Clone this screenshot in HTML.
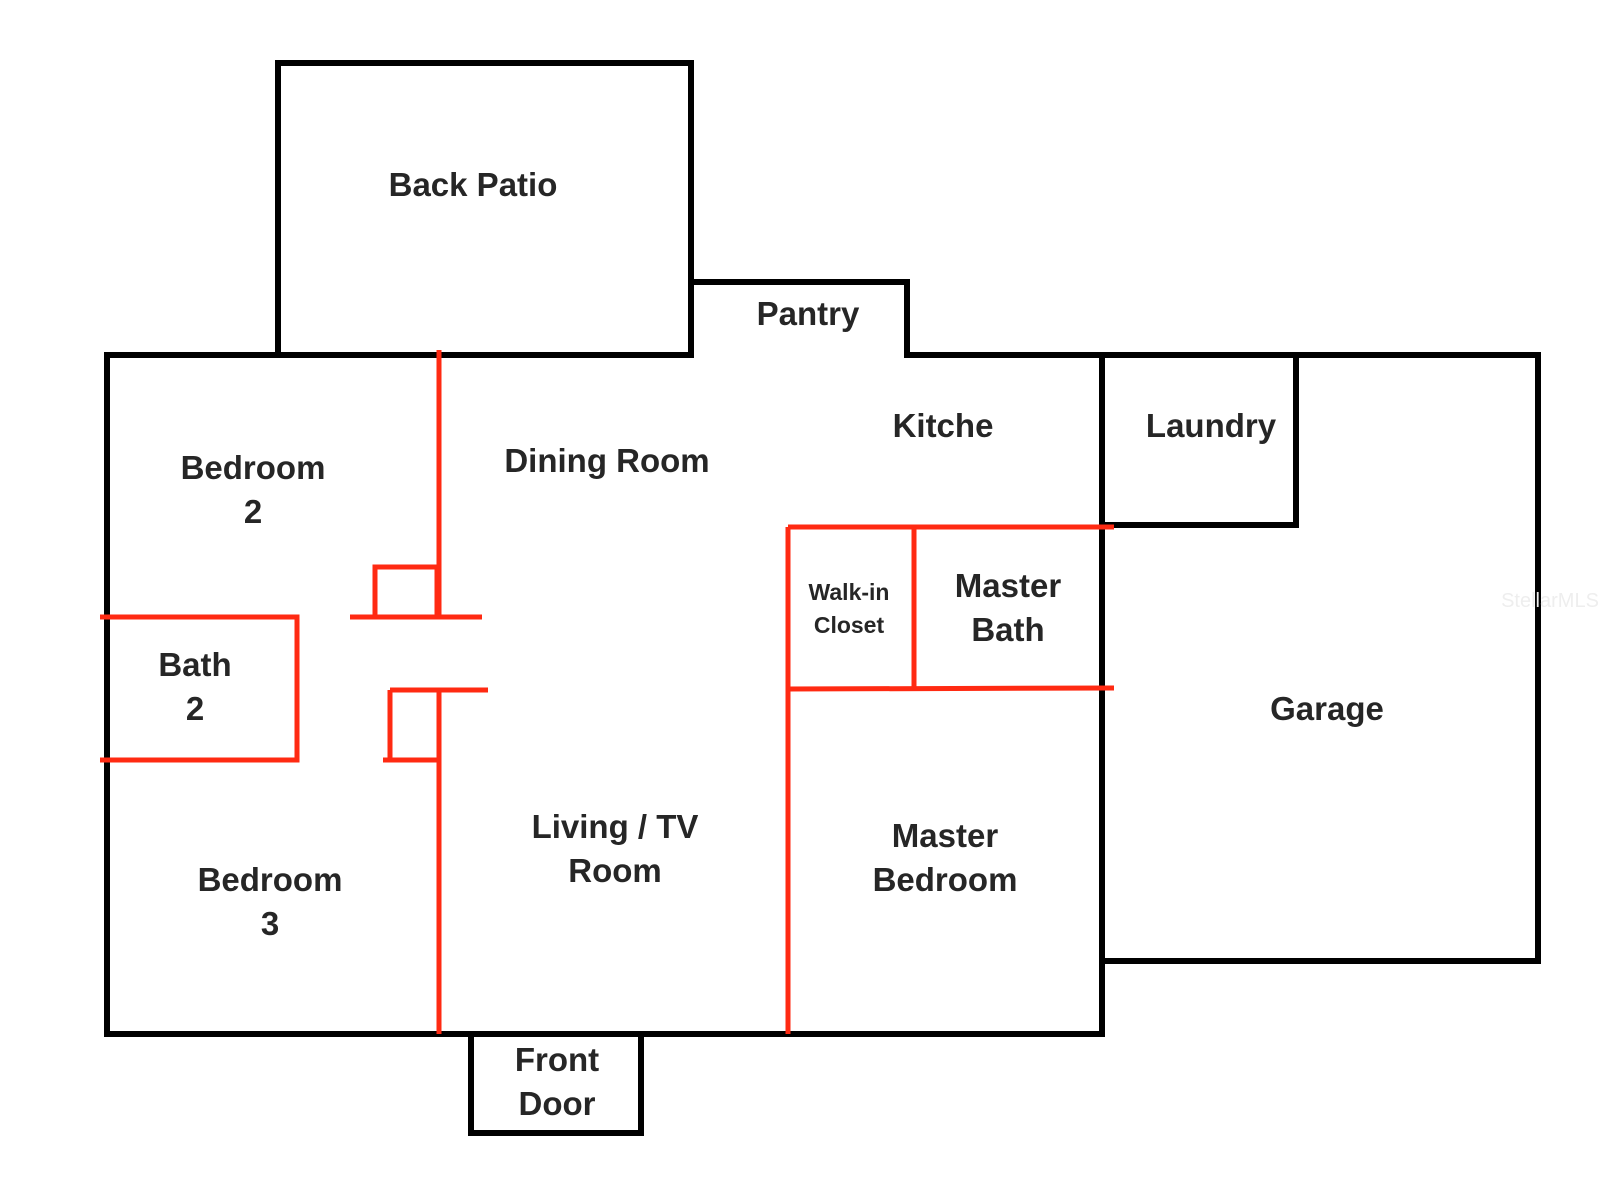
<!DOCTYPE html>
<html><head><meta charset="utf-8"><style>
html,body{margin:0;padding:0;background:#fff;width:1600px;height:1200px;overflow:hidden}
svg{display:block}
text{font-family:"Liberation Sans",Arial,sans-serif;font-weight:bold;fill:#262626;text-anchor:middle}
</style></head><body>
<svg width="1600" height="1200" viewBox="0 0 1600 1200" xmlns="http://www.w3.org/2000/svg">
<g fill="none" stroke="#000" stroke-width="6" stroke-linecap="square" stroke-linejoin="miter">
<rect x="278" y="63" width="413" height="292"/>
<polyline points="107,355 691,355 691,282 907,282 907,355 1102,355"/>
<polyline points="107,355 107,1034 1102,1034 1102,355"/>
<polyline points="1104,355 1296,355 1296,525 1104,525"/>
<polyline points="1102,355 1538,355 1538,961 1102,961"/>
<rect x="471" y="1034" width="170" height="99"/>
</g>
<g fill="none" stroke="#ff2a12" stroke-width="5">
<line x1="439" y1="350" x2="439" y2="617"/>
<polyline points="375,617 375,567 437,567 437,617"/>
<line x1="350" y1="617" x2="482" y2="617"/>
<polyline points="100,617 297,617 297,760 100,760"/>
<line x1="390" y1="690" x2="488" y2="690"/>
<polyline points="439,690 439,760 383,760"/>
<line x1="390" y1="690" x2="390" y2="760"/>
<line x1="439" y1="760" x2="439" y2="1034"/>
<line x1="788" y1="527" x2="788" y2="1034"/>
<line x1="788" y1="527" x2="1114" y2="527"/>
<line x1="914" y1="527" x2="914" y2="688"/>
<line x1="788" y1="689" x2="1114" y2="688"/>
</g>
<g font-size="33">
<text x="473" y="196">Back Patio</text>
<text x="808" y="325">Pantry</text>
<text x="943" y="437">Kitche</text>
<text x="1211" y="437">Laundry</text>
<text x="607" y="472">Dining Room</text>
<text x="253" y="479">Bedroom</text>
<text x="253" y="523">2</text>
<text x="1008" y="597">Master</text>
<text x="1008" y="641">Bath</text>
<text x="195" y="676">Bath</text>
<text x="195" y="720">2</text>
<text x="1327" y="720">Garage</text>
<text x="615" y="838">Living / TV</text>
<text x="615" y="882">Room</text>
<text x="945" y="847">Master</text>
<text x="945" y="891">Bedroom</text>
<text x="270" y="891">Bedroom</text>
<text x="270" y="935">3</text>
<text x="557" y="1071">Front</text>
<text x="557" y="1115">Door</text>
</g>
<g font-size="23">
<text x="849" y="600">Walk-in</text>
<text x="849" y="633">Closet</text>
</g>
<text x="1550" y="607" font-size="20" style="fill:#eee;font-weight:normal">StellarMLS</text>
</svg>
</body></html>
